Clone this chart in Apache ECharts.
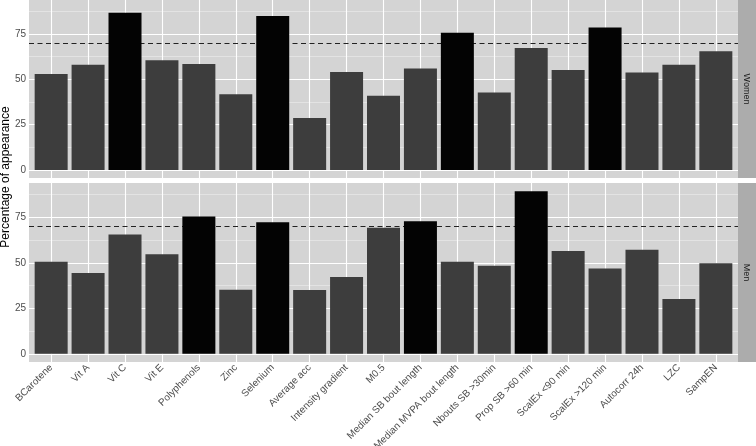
<!DOCTYPE html>
<html>
<head>
<meta charset="utf-8">
<script src="https://cdn.jsdelivr.net/npm/echarts@6/dist/echarts.min.js"></script>
<style>html,body{margin:0;padding:0;background:#fff;}#c{width:756px;height:446px;}</style>
</head>
<body>
<div id="c"></div>
<script>
const categories = ["BCarotene","Vit A","Vit C","Vit E","Polyphenols","Zinc","Selenium","Average acc","Intensity gradient","M0.5","Median SB bout length","Median MVPA bout length","Nbouts SB >30min","Prop SB >60 min","ScalEx <90 min","ScalEx >120 min","Autocorr 24h","LZC","SampEN"];
const women = [53.0, 58.1, 86.7, 60.5, 58.5, 41.7, 85.0, 28.7, 54.1, 41.0, 56.0, 75.7, 42.8, 67.3, 55.2, 78.6, 53.8, 58.1, 65.5];
const men = [50.5, 44.4, 65.5, 54.7, 75.4, 35.2, 72.3, 35.0, 42.2, 69.3, 72.8, 50.5, 48.4, 89.3, 56.5, 46.9, 57.2, 30.1, 49.7];
const panels = ["Women", "Men"];
const threshold = 70;
const yTicks = [0, 25, 50, 75];
const yMinor = [12.5, 37.5, 62.5, 87.5];
const yMin = -4.47, yMax = 93.8;

const idx = categories.map((_, i) => i);
const font = "'Liberation Sans', Arial, sans-serif";
const chart = echarts.init(document.getElementById('c'), null, {renderer: 'canvas'});

const grids = [
  {left: 29, right: 18, top: 0, height: 178},
  {left: 29, right: 18, top: 183, height: 179}
].map(g => Object.assign(g, {show: true, backgroundColor: '#d4d4d4', borderWidth: 0, containLabel: false, outerBoundsMode: 'none'}));

const xAxes = [0, 1].map(gi => ({
  type: 'value', gridIndex: gi, min: -0.6, max: categories.length - 0.4,
  axisLine: {show: false},
  axisTick: {show: gi === 1, customValues: idx, length: 3, lineStyle: {color: '#333'}},
  axisLabel: {show: gi === 1, customValues: idx, formatter: v => categories[Math.round(v)] || '',
    rotate: 45, fontSize: 10, color: '#4d4d4d', fontFamily: font, margin: 4},
  splitLine: {show: false}
}));

const yAxes = [0, 1].map(gi => ({
  type: 'value', gridIndex: gi, min: yMin, max: yMax,
  axisLine: {show: false},
  axisTick: {show: true, customValues: yTicks, length: 3, lineStyle: {color: '#333'}},
  axisLabel: {customValues: yTicks, fontSize: 10, color: '#4d4d4d', fontFamily: font, margin: 3},
  splitLine: {show: false}
}));

const major = {color: '#ffffff', width: 1.1, type: 'solid'};
const minor = {color: '#ececec', width: 0.6, type: 'solid'};
const series = [];
[women, men].forEach((vals, gi) => {
  series.push({
    type: 'bar', xAxisIndex: gi, yAxisIndex: gi, z: 3, barWidth: 33, animation: false,
    data: vals.map((v, i) => ({value: [i, v], itemStyle: {color: v > threshold ? '#030303' : '#3d3d3d'}})),
    markLine: {silent: true, symbol: 'none', z: 1, animation: false, label: {show: false},
      data: yMinor.map(v => ({yAxis: v, lineStyle: minor}))
        .concat(yTicks.map(v => ({yAxis: v, lineStyle: major})))
        .concat(idx.map(i => ({xAxis: i, lineStyle: major})))
        .concat([{yAxis: threshold, lineStyle: {color: '#222222', width: 1.2, type: [5, 3.5]}}])}
  });
});

const graphics = [];
grids.forEach((g, gi) => {
  graphics.push({type: 'rect', shape: {x: 738, y: g.top, width: 18, height: g.height}, style: {fill: '#acacac'}, z: 0});
  graphics.push({type: 'text', x: 746.5, y: g.top + g.height / 2, rotation: -Math.PI / 2,
    style: {text: panels[gi], font: '9px ' + font, fill: '#1a1a1a', align: 'center', verticalAlign: 'middle'}, z: 1});
});
graphics.push({type: 'text', x: 6, y: 177, rotation: Math.PI / 2,
  style: {text: 'Percentage of appearance', font: '12px ' + font, fill: '#000', align: 'center', verticalAlign: 'middle'}, z: 1});

chart.setOption({
  animation: false,
  backgroundColor: '#ffffff',
  grid: grids,
  xAxis: xAxes,
  yAxis: yAxes,
  series: series,
  graphic: graphics
});
</script>
</body>
</html>
